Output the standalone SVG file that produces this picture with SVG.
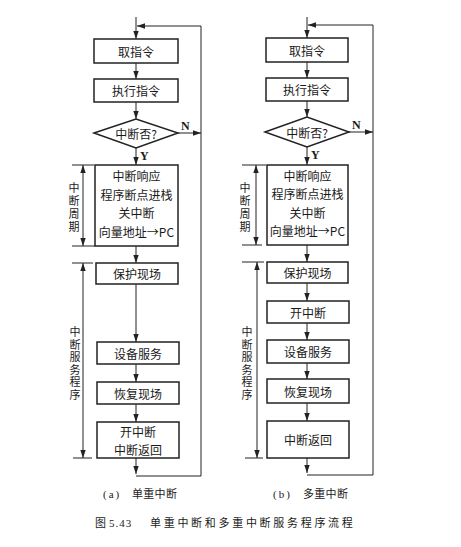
<svg xmlns="http://www.w3.org/2000/svg" width="461" height="547" viewBox="0 0 461 547">
<defs>
<marker id="ah" markerUnits="userSpaceOnUse" markerWidth="8" markerHeight="8" viewBox="0 0 8 8" refX="8" refY="4" orient="auto">
<path d="M0,1.3 L8,4 L0,6.7 Z" fill="#222"/>
</marker>
<marker id="ahs" markerUnits="userSpaceOnUse" markerWidth="8" markerHeight="8" viewBox="0 0 8 8" refX="0" refY="4" orient="auto">
<path d="M8,1.3 L0,4 L8,6.7 Z" fill="#222"/>
</marker>
<style>
.box{fill:#fff;stroke:#222;stroke-width:1.5}
.t{font-family:"Noto Sans CJK SC","Noto Sans",sans-serif;font-size:12px;fill:#1a1a1a;text-anchor:middle;dominant-baseline:central}
.v{font-family:"Noto Sans CJK SC","Noto Sans",sans-serif;font-size:11px;fill:#1a1a1a;writing-mode:vertical-rl;text-anchor:start}
.yn{font-family:"Liberation Serif",serif;font-size:12px;font-weight:bold;fill:#1a1a1a}
.c{fill:none;stroke:#222;stroke-width:1}
.cap{font-family:"Noto Sans CJK SC","Noto Sans",sans-serif;font-size:11px;fill:#1a1a1a}
.lat{font-family:"Liberation Serif",serif;font-size:11px;fill:#1a1a1a}
</style>
</defs>
<rect width="461" height="547" fill="#fff"/>

<g id="connectors">
<path class="c" d="M136,17 V39" marker-end="url(#ah)"/>
<path class="c" d="M136,63 V79" marker-end="url(#ah)"/>
<path class="c" d="M136,102 V119" marker-end="url(#ah)"/>
<path class="c" d="M136,148 V165" marker-end="url(#ah)"/>
<path class="c" d="M136,246 V263" marker-end="url(#ah)"/>
<path class="c" d="M136,284 V342" marker-end="url(#ah)"/>
<path class="c" d="M136,364 V382" marker-end="url(#ah)"/>
<path class="c" d="M136,404 V422" marker-end="url(#ah)"/>
<path class="c" d="M136,458 V474" marker-end="url(#ah)"/>
<path class="c" d="M136,476 H201 V26 H137" marker-end="url(#ah)"/>
<path class="c" d="M178,133 H201" marker-end="url(#ah)"/>
<path class="c" d="M83,165 V246" marker-start="url(#ahs)" marker-end="url(#ah)"/>
<path class="c" d="M72,165 H94 M72,246 H95"/>
<path class="c" d="M83,263 V458" marker-start="url(#ahs)" marker-end="url(#ah)"/>
<path class="c" d="M72,263 H93 M73,458 H92"/>
<path class="c" d="M307,17 V38" marker-end="url(#ah)"/>
<path class="c" d="M307,62 V78" marker-end="url(#ah)"/>
<path class="c" d="M307,101 V117" marker-end="url(#ah)"/>
<path class="c" d="M307,147 V165" marker-end="url(#ah)"/>
<path class="c" d="M307,245 V262" marker-end="url(#ah)"/>
<path class="c" d="M307,283 V301" marker-end="url(#ah)"/>
<path class="c" d="M307,323 V340" marker-end="url(#ah)"/>
<path class="c" d="M307,363 V379" marker-end="url(#ah)"/>
<path class="c" d="M307,403 V421" marker-end="url(#ah)"/>
<path class="c" d="M307,458 V473" marker-end="url(#ah)"/>
<path class="c" d="M307,475 H373 V25 H308" marker-end="url(#ah)"/>
<path class="c" d="M349,132 H373" marker-end="url(#ah)"/>
<path class="c" d="M256,165 V245" marker-start="url(#ahs)" marker-end="url(#ah)"/>
<path class="c" d="M242,165 H266 M242,245 H262"/>
<path class="c" d="M257,262 V458" marker-start="url(#ahs)" marker-end="url(#ah)"/>
<path class="c" d="M242,262 H264 M245,458 H263"/>
</g>

<g id="a-fetch"><rect class="box" x="94" y="39" width="84" height="24"/><text class="t" x="136" y="51">取指令</text></g>
<g id="a-exec"><rect class="box" x="94" y="79" width="84" height="23"/><text class="t" x="136" y="90.5">执行指令</text></g>
<g id="a-dec"><polygon class="box" points="94,133 136,119 178,133 136,148"/><text class="t" x="136" y="133">中断否?</text>
<text class="yn" x="181" y="130">N</text><text class="yn" x="140" y="160">Y</text></g>
<g id="a-cycle"><rect class="box" x="95" y="165" width="83" height="81"/>
<text class="t" x="136.5" y="175.5">中断响应</text>
<text class="t" x="136.5" y="194">程序断点进栈</text>
<text class="t" x="136.5" y="212.5">关中断</text>
<text class="t" x="136.5" y="231">向量地址→PC</text></g>
<g id="a-save"><rect class="box" x="96" y="263" width="82" height="21"/><text class="t" x="137" y="273.5">保护现场</text></g>
<g id="a-serv"><rect class="box" x="97" y="342" width="82" height="22"/><text class="t" x="138" y="353">设备服务</text></g>
<g id="a-rest"><rect class="box" x="97" y="382" width="82" height="22"/><text class="t" x="138" y="393">恢复现场</text></g>
<g id="a-ret"><rect class="box" x="97" y="422" width="82" height="36"/><text class="t" x="138" y="431">开中断</text><text class="t" x="138" y="449">中断返回</text></g>
<g id="a-lab1"><text class="v" x="74" y="182.5" letter-spacing="2">中断周期</text></g>
<g id="a-lab2"><text class="v" x="75" y="326.5" letter-spacing="1.5">中断服务程序</text></g>

<g id="b-fetch"><rect class="box" x="266" y="38" width="82" height="24"/><text class="t" x="307" y="50">取指令</text></g>
<g id="b-exec"><rect class="box" x="266" y="78" width="82" height="23"/><text class="t" x="307" y="89.5">执行指令</text></g>
<g id="b-dec"><polygon class="box" points="265,132 307,117 349,132 307,147"/><text class="t" x="307" y="132">中断否?</text>
<text class="yn" x="352" y="129">N</text><text class="yn" x="311" y="159">Y</text></g>
<g id="b-cycle"><rect class="box" x="267" y="165" width="81" height="80"/>
<text class="t" x="307.5" y="175">中断响应</text>
<text class="t" x="307.5" y="193.5">程序断点进栈</text>
<text class="t" x="307.5" y="212">关中断</text>
<text class="t" x="307.5" y="230.5">向量地址→PC</text></g>
<g id="b-save"><rect class="box" x="267" y="262" width="81" height="21"/><text class="t" x="307.5" y="272.5">保护现场</text></g>
<g id="b-en"><rect class="box" x="267" y="301" width="82" height="22"/><text class="t" x="308" y="312">开中断</text></g>
<g id="b-serv"><rect class="box" x="267" y="340" width="82" height="23"/><text class="t" x="308" y="351.5">设备服务</text></g>
<g id="b-rest"><rect class="box" x="267" y="379" width="82" height="24"/><text class="t" x="308" y="391">恢复现场</text></g>
<g id="b-ret"><rect class="box" x="267" y="421" width="82" height="37"/><text class="t" x="308" y="439.5">中断返回</text></g>
<g id="b-lab1"><text class="v" x="245" y="182.5" letter-spacing="2">中断周期</text></g>
<g id="b-lab2"><text class="v" x="247" y="326.5" letter-spacing="1.5">中断服务程序</text></g>

<g id="captions">
<text class="lat" x="103" y="498" letter-spacing="2">(a)</text>
<text class="cap" x="132" y="498" letter-spacing="0.3">单重中断</text>
<text class="lat" x="273" y="498" letter-spacing="2">(b)</text>
<text class="cap" x="303" y="498" letter-spacing="0.3">多重中断</text>
<text class="cap" x="95" y="527">图</text>
<text class="lat" x="109" y="527" letter-spacing="1">5.43</text>
<text class="cap" x="150" y="527" letter-spacing="2.7">单重中断和多重中断服务程序流程</text>
</g>
</svg>
